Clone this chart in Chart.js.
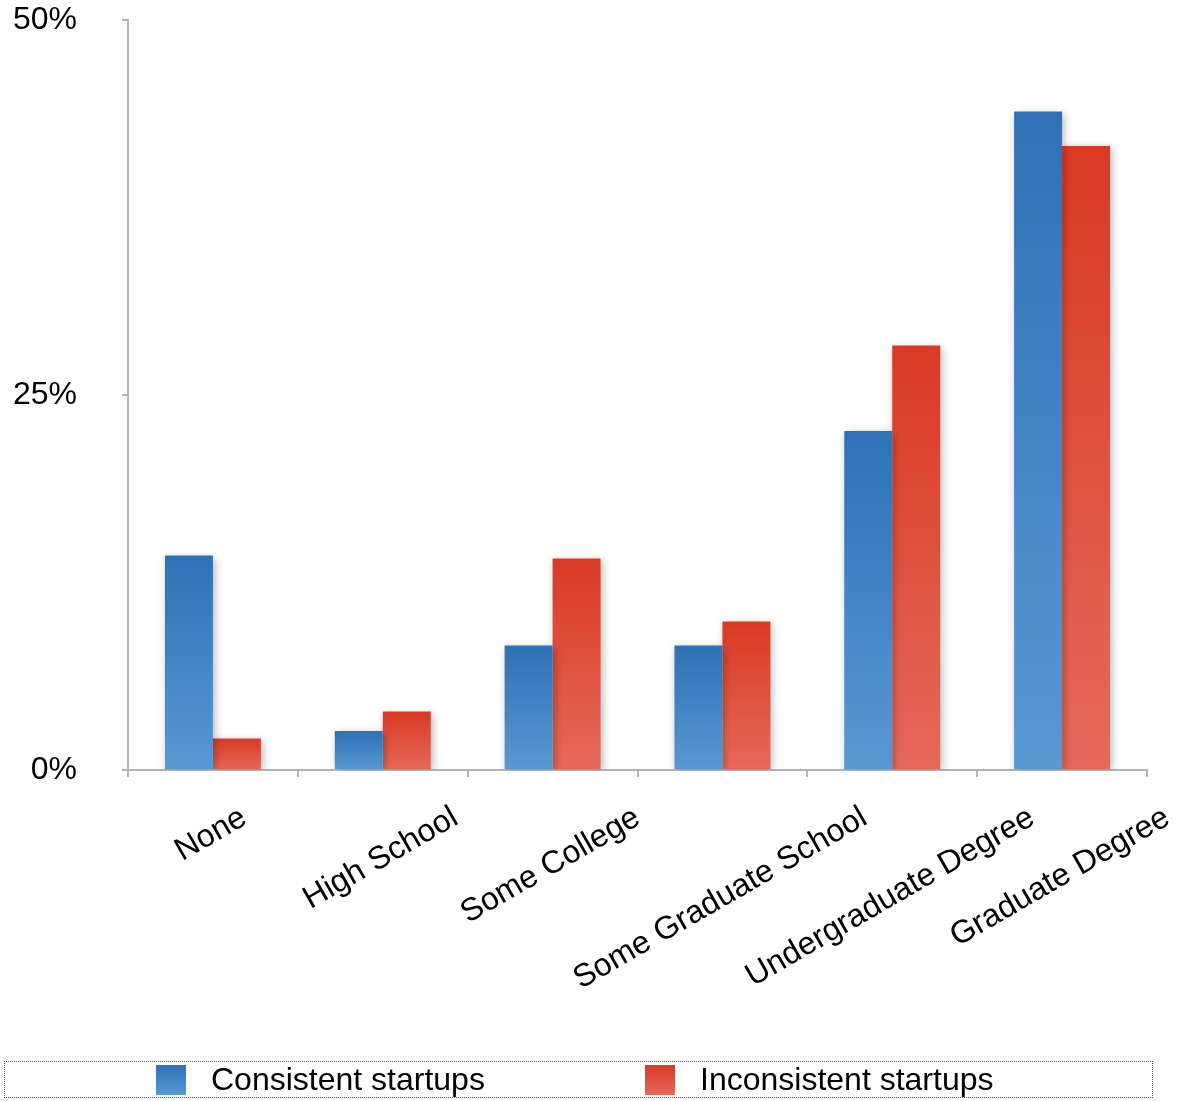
<!DOCTYPE html>
<html lang="en">
<head>
    <meta charset="UTF-8">
    <title>Education of Founders</title>
    <style>
        body {
            margin: 0;
            background: #fff;
            font-family: "Liberation Sans", Arial, sans-serif;
        }
        .wrap {
            position: relative;
            width: 1179px;
            height: 1101px;
        }
        .legend {
            position: absolute;
            left: 4px;
            top: 1061px;
            width: 1147px;
            height: 35px;
            border: 1px dotted #555;
            box-sizing: content-box;
            display: flex;
            align-items: center;
        }
        .legend .item {
            display: flex;
            align-items: center;
            width: 489px;
            font-size: 32px;
            color: #000;
        }
        .legend .item:first-child {
            margin-left: 151px;
        }
        .legend .swatch {
            width: 30px;
            height: 30px;
            margin-right: 25px;
        }
    </style>
    <script src="https://cdn.jsdelivr.net/npm/chart.js"></script>
</head>
<body>

<div class="wrap">
    <canvas id="eduChart" width="1179" height="1101"></canvas>
    <div class="legend" id="legend"></div>
</div>

<script>
    // Education level of founders, share of startups (%)
    const categories = ['None', 'High School', 'Some College', 'Some Graduate School', 'Undergraduate Degree', 'Graduate Degree'];
    const seriesNames = ['Consistent startups', 'Inconsistent startups'];
    const consistent = [14.3, 2.6, 8.3, 8.3, 22.6, 43.9];
    const inconsistent = [2.1, 3.9, 14.1, 9.9, 28.3, 41.6];
    const yTicks = [0, 25, 50];

    const palette = [
        { top: '#2f71b5', bottom: '#5899d2' },
        { top: '#d93a24', bottom: '#e6695b' }
    ];

    const FONT = '"Liberation Sans", Arial, sans-serif';

    // vertical gradient per bar, dark at the top, lighter at the base
    function barGradient(ctx, colors) {
        const chart = ctx.chart;
        const y = chart.scales.y;
        if (!y || ctx.raw === undefined) return colors.top;
        const top = y.getPixelForValue(ctx.raw);
        const base = y.getPixelForValue(0);
        if (!isFinite(top) || !isFinite(base) || top === base) return colors.top;
        const g = chart.ctx.createLinearGradient(0, top, 0, base);
        g.addColorStop(0, colors.top);
        g.addColorStop(1, colors.bottom);
        return g;
    }

    // soft drop shadow under the bars
    const barShadow = {
        id: 'barShadow',
        beforeDatasetsDraw(chart) {
            const ctx = chart.ctx;
            ctx.save();
            ctx.shadowColor = 'rgba(0, 0, 0, 0.28)';
            ctx.shadowBlur = 8;
            ctx.shadowOffsetX = 2;
            ctx.shadowOffsetY = 2;
        },
        afterDatasetsDraw(chart) {
            chart.ctx.restore();
        }
    };

    // category names, rotated and centred under each group
    const slantLabels = {
        id: 'slantLabels',
        afterDraw(chart) {
            const ctx = chart.ctx;
            const x = chart.scales.x;
            const angle = 30 * Math.PI / 180;
            const topY = chart.chartArea.bottom + 35;
            ctx.save();
            ctx.font = '32px ' + FONT;
            ctx.fillStyle = '#000';
            ctx.textAlign = 'center';
            ctx.textBaseline = 'middle';
            categories.forEach((label, i) => {
                const w = ctx.measureText(label).width;
                const cx = x.getPixelForValue(i) - 2;
                const cy = topY + (w / 2) * Math.sin(angle) + 12 * Math.cos(angle);
                ctx.save();
                ctx.translate(cx, cy);
                ctx.rotate(-angle);
                ctx.fillText(label, 0, 0);
                ctx.restore();
            });
            ctx.restore();
        }
    };

    const axisGrey = '#b4b4b4';

    new Chart(document.getElementById('eduChart'), {
        type: 'bar',
        data: {
            labels: categories,
            datasets: [
                {
                    label: seriesNames[0],
                    data: consistent,
                    backgroundColor: (c) => barGradient(c, palette[0])
                },
                {
                    label: seriesNames[1],
                    data: inconsistent,
                    backgroundColor: (c) => barGradient(c, palette[1])
                }
            ]
        },
        options: {
            responsive: false,
            animation: false,
            categoryPercentage: 0.565,
            barPercentage: 1.0,
            layout: {
                padding: { top: 20, right: 32, bottom: 324, left: 0 }
            },
            scales: {
                x: {
                    grid: {
                        drawOnChartArea: false,
                        drawTicks: true,
                        tickLength: 7,
                        color: axisGrey,
                        lineWidth: 2
                    },
                    border: { color: axisGrey, width: 2 },
                    ticks: { display: false },
                    afterFit(scale) {
                        scale.height = 7;
                        scale.paddingLeft = 0;
                        scale.paddingRight = 0;
                    }
                },
                y: {
                    min: 0,
                    max: 50,
                    afterBuildTicks(scale) {
                        scale.ticks = yTicks.map(v => ({ value: v }));
                    },
                    grid: {
                        drawOnChartArea: false,
                        drawTicks: true,
                        tickLength: 6,
                        color: axisGrey,
                        lineWidth: 2
                    },
                    border: { color: axisGrey, width: 2 },
                    ticks: {
                        padding: 45,
                        color: '#000',
                        font: { family: FONT, size: 32 },
                        callback: (v) => v + '%'
                    },
                    afterFit(scale) {
                        scale.width = 128;
                        scale.paddingTop = 0;
                        scale.paddingBottom = 0;
                    }
                }
            },
            plugins: {
                legend: { display: false },
                tooltip: { enabled: false }
            }
        },
        plugins: [barShadow, slantLabels]
    });

    // legend row below the chart
    const legend = document.getElementById('legend');
    seriesNames.forEach((name, i) => {
        const item = document.createElement('div');
        item.className = 'item';
        const sw = document.createElement('span');
        sw.className = 'swatch';
        sw.style.background = `linear-gradient(${palette[i].top}, ${palette[i].bottom})`;
        const txt = document.createElement('span');
        txt.textContent = name;
        item.appendChild(sw);
        item.appendChild(txt);
        legend.appendChild(item);
    });
</script>

</body>
</html>
